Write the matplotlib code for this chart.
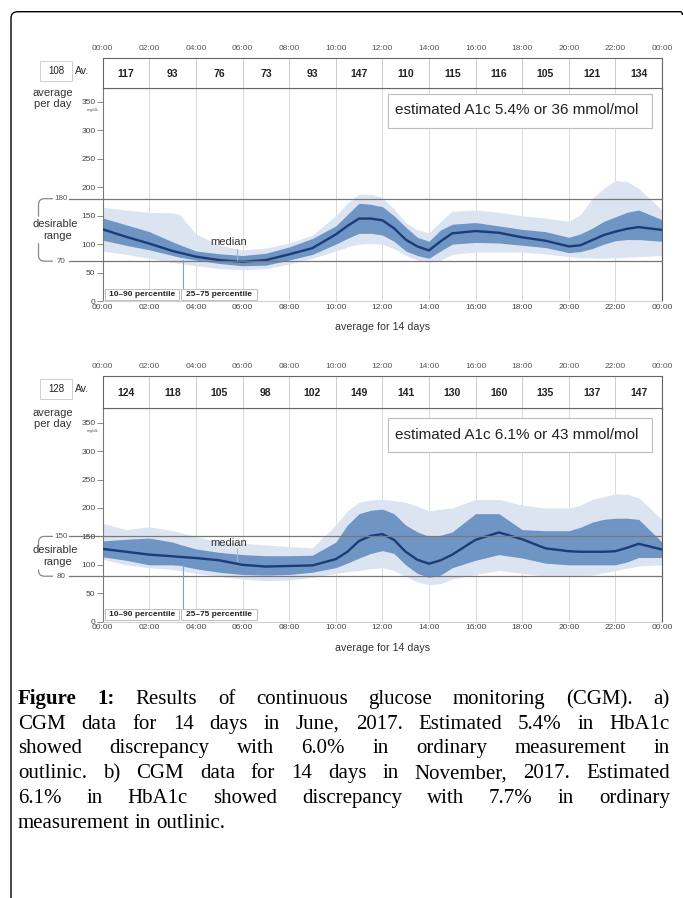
import numpy as np
import matplotlib
matplotlib.use("Agg")
import matplotlib.pyplot as plt
from matplotlib.path import Path
from matplotlib.patches import PathPatch, Rectangle

plt.rcParams['font.family'] = ['Liberation Sans', 'DejaVu Sans']

W, H = 683, 898
PPU = 0.5686          # pixels per mg/dL
X0, X1 = 102.7, 662   # plot area left/right in pixels

# ---- values ----
hours = [0, 1, 2, 3, 3.3, 4, 5, 6, 7, 8, 9, 10, 10.5, 11, 11.5, 12, 12.5, 13, 13.5,
         14, 14.5, 15, 16, 17, 18, 19, 20, 20.5, 21, 21.5, 22, 22.5, 23, 24]
times = ["00:00", "02:00", "04:00", "06:00", "08:00", "10:00", "12:00",
         "14:00", "16:00", "18:00", "20:00", "22:00", "00:00"]

# a) June 2017
med_a = [126, 113, 101, 88, 85, 78, 72, 69, 72, 82, 93, 117, 132, 145, 145, 142, 128, 108, 96,
         89, 105, 119, 123, 120, 112, 106, 96, 98, 107, 116, 122, 127, 130, 125]
p75_a = [146, 134, 122, 104, 99, 88, 83, 80, 84, 95, 110, 132, 152, 172, 170, 166, 150, 130, 112,
         105, 125, 135, 138, 132, 126, 122, 112, 118, 128, 140, 148, 156, 160, 143]
p25_a = [107, 98, 90, 80, 77, 72, 66, 62, 63, 72, 82, 100, 110, 119, 119, 116, 105, 88, 80,
         75, 88, 100, 103, 102, 98, 94, 85, 87, 92, 100, 106, 108, 108, 105]
p90_a = [165, 160, 156, 155, 152, 118, 98, 90, 93, 102, 116, 150, 172, 188, 188, 182, 162, 138, 125,
         120, 140, 158, 160, 156, 150, 146, 140, 152, 180, 198, 212, 210, 198, 160]
p10_a = [88, 82, 75, 68, 66, 62, 57, 55, 57, 65, 75, 88, 95, 100, 101, 100, 92, 80, 72,
         68, 72, 82, 86, 86, 86, 83, 78, 76, 76, 75, 76, 77, 78, 80]
avg_a = [117, 93, 76, 73, 93, 147, 110, 115, 116, 105, 121, 134]

# b) November 2017
med_b = [128, 123, 118, 115, 114, 112, 108, 100, 97, 98, 99, 110, 123, 142, 151, 154, 144, 123, 109,
         102, 108, 118, 144, 157, 145, 129, 124, 123, 123, 123, 124, 130, 137, 127]
p75_b = [142, 145, 147, 140, 136, 128, 122, 118, 116, 116, 117, 140, 170, 190, 196, 198, 190, 170, 158,
         150, 152, 158, 190, 190, 162, 160, 160, 166, 175, 180, 182, 182, 180, 140]
p25_b = [114, 108, 100, 100, 99, 93, 87, 83, 82, 83, 87, 95, 103, 112, 120, 125, 120, 100, 85,
         78, 82, 95, 108, 118, 112, 103, 100, 100, 100, 100, 100, 105, 113, 113]
p90_b = [173, 162, 167, 160, 157, 150, 140, 138, 135, 132, 130, 170, 195, 210, 214, 215, 213, 210, 203,
         195, 198, 200, 215, 215, 205, 200, 200, 205, 215, 220, 225, 224, 218, 180]
p10_b = [110, 100, 95, 92, 90, 85, 80, 75, 72, 73, 78, 85, 88, 90, 93, 95, 90, 80, 70,
         65, 67, 75, 83, 90, 85, 80, 80, 80, 82, 86, 90, 94, 98, 100]
avg_b = [124, 118, 105, 98, 102, 149, 141, 130, 160, 135, 137, 147]

LIGHT = "#dce4f2"
DARK = "#6f95c5"
NAVY = "#1b3c78"

caption = [
    [("Figure", True), ("1:", True), ("Results", False), ("of", False), ("continuous", False),
     ("glucose", False), ("monitoring", False), ("(CGM).", False), ("a)", False)],
    "CGM data for 14 days in June, 2017. Estimated 5.4% in HbA1c",
    "showed discrepancy with 6.0% in ordinary measurement in",
    "outlinic. b) CGM data for 14 days in November, 2017. Estimated",
    "6.1% in HbA1c showed discrepancy with 7.7% in ordinary",
    "measurement in outlinic.",
]

fig = plt.figure(figsize=(W / 100, H / 100), dpi=100)
ov = fig.add_axes([0, 0, 1, 1], zorder=5)
ov.set_xlim(0, W)
ov.set_ylim(H, 0)
ov.axis("off")


def rect(x0, y0, x1, y1):
    return [x0 / W, 1 - y1 / H, (x1 - x0) / W, (y1 - y0) / H]


def panel(htop, atop, zero, p10, p25, med, p75, p90, avgs, day_avg, a1c, lo, hi,
          med_y, ptr_top, med_ptr, a1c_top):
    # main plot
    ax = fig.add_axes(rect(X0, atop, X1, zero))
    ax.set_xlim(0, 24)
    ax.set_ylim(0, (zero - atop) / PPU)
    ax.grid(axis='x', color='#dadada', lw=0.7)
    ax.set_axisbelow(True)
    ax.fill_between(hours, p10, p90, color=LIGHT, lw=0, zorder=1)
    ax.fill_between(hours, p25, p75, color=DARK, lw=0, zorder=2)
    ax.plot(hours, med, color=NAVY, lw=1.7, zorder=3)
    ytr = ax.get_yaxis_transform()
    for v in (lo, hi):
        ax.plot([-0.06, 1], [v, v], transform=ytr, color='#777777', lw=0.9,
                clip_on=False, zorder=4)
        ax.text(-0.0746, v, str(v), transform=ytr, ha='center', va='center',
                fontsize=5.8, color='#555555')
    ax.set_yticks(range(0, 351, 50))
    ax.tick_params(axis='y', length=4.3, width=0.6, color='#777777', labelsize=6,
                   labelcolor='#444444', pad=0.8)
    ax.set_xticks(range(0, 25, 2))
    ax.set_xticklabels(times)
    ax.tick_params(axis='x', length=0, pad=2.0, labelsize=6, labelcolor='#444444')
    ax.spines['left'].set_color('#777777')
    ax.spines['right'].set_color('#555555')
    ax.spines['top'].set_color('#555555')
    ax.spines['bottom'].set_color('#d0d0d0')
    for s in ax.spines.values():
        s.set_linewidth(0.8)
    ax.text(5.4, med_y, 'median', ha='center', va='center', fontsize=8, color='#333333', zorder=5)
    ax.plot([3.45, 3.45], [22, ptr_top], color='#7f9fc8', lw=0.8, zorder=4)
    ax.plot([5.75, 5.75], med_ptr, color='#9db3d3', lw=0.7, zorder=4)

    # header row with 2-hour averages
    hx = fig.add_axes(rect(X0, htop, X1, atop))
    hx.set_xlim(0, 24)
    hx.set_ylim(0, 1)
    hx.set_xticks(range(0, 25, 2))
    hx.set_xticklabels(times)
    hx.xaxis.tick_top()
    hx.tick_params(axis='x', length=0, pad=4.2, labelsize=6, labelcolor='#555555')
    hx.set_yticks([])
    for h in range(2, 24, 2):
        hx.axvline(h, color='#cccccc', lw=0.7)
    for s in hx.spines.values():
        s.set_color('#666666')
        s.set_linewidth(0.8)
    for i, v in enumerate(avgs):
        hx.text(2 * i + 1, 0.47, str(v), ha='center', va='center', fontsize=7.5,
                fontweight='bold', color='#222222')

    # labels around the plot (pixel coordinates)
    ov.add_patch(Rectangle((40, htop + 3), 32, 20, fill=False, ec='#cfcfcf', lw=0.7))
    ov.text(56, htop + 13.5, str(day_avg), ha='center', va='center', fontsize=7, color='#222222')
    ov.text(82, htop + 14, 'Av.', ha='center', va='center', fontsize=7.5, color='#222222')
    ov.text(53, atop + 5.5, 'average', ha='center', va='center', fontsize=8, color='#333333')
    ov.text(53, atop + 16.5, 'per day', ha='center', va='center', fontsize=8, color='#333333')
    ov.text(93, zero - 350 * PPU + 8, 'mg/dL', ha='center', va='center', fontsize=3.2, color='#555555')

    # desirable range bracket
    yt, yb = zero - hi * PPU, zero - lo * PPU
    ym = (yt + yb) / 2
    xr, xl, r = 53, 38.5, 6
    top_piece = Path([(xr, yt), (xl + r, yt), (xl, yt), (xl, yt + r), (xl, min(ym - 10, yt + 18))],
                     [Path.MOVETO, Path.LINETO, Path.CURVE3, Path.CURVE3, Path.LINETO])
    bot_piece = Path([(xl, max(ym + 13, yb - 18)), (xl, yb - r), (xl, yb), (xl + r, yb), (xr, yb)],
                     [Path.MOVETO, Path.LINETO, Path.CURVE3, Path.CURVE3, Path.LINETO])
    for p in (top_piece, bot_piece):
        ov.add_patch(PathPatch(p, fill=False, ec='#888888', lw=0.9))
    ov.text(55.5, ym - 6, 'desirable', ha='center', va='center', fontsize=8, color='#333333')
    ov.text(57.5, ym + 6, 'range', ha='center', va='center', fontsize=8, color='#333333')

    # percentile legend boxes
    for x0, x1, lab in ((105, 179, '10\u201390 percentile'), (181, 257, '25\u201375 percentile')):
        ov.add_patch(Rectangle((x0, zero - 12.5), x1 - x0, 11, fc='white', ec='#b5b5b5', lw=0.6))
        ov.text((x0 + x1) / 2, zero - 7, lab, ha='center', va='center', fontsize=6,
                fontweight='bold', color='#222222')

    # estimated A1c box
    ov.add_patch(Rectangle((388, atop + a1c_top), 264, 34, fc='white', ec='#bdbdbd', lw=0.8))
    ov.text(395, atop + a1c_top + 17, a1c, ha='left', va='center', fontsize=11, color='#222222')

    ov.text(383, zero + 26, 'average for 14 days', ha='center', va='center', fontsize=7.7,
            color='#333333')


panel(57.5, 87.7, 301.0, p10_a, p25_a, med_a, p75_a, p90_a, avg_a, 108,
      'estimated A1c 5.4% or 36 mmol/mol', 70, 180, 104, 72, [72, 92], 5.8)
panel(375.5, 407.7, 621.7, p10_b, p25_b, med_b, p75_b, p90_b, avg_b, 128,
      'estimated A1c 6.1% or 43 mmol/mol', 80, 150, 138, 100, [107, 127], 10.3)

# outer frame with rounded top-left corner
frame = Path([(11, H), (11, 18), (11, 11.7), (18, 11.7), (680, 11.7), (682.5, 11.7), (682.5, 15)],
             [Path.MOVETO, Path.LINETO, Path.CURVE3, Path.CURVE3, Path.LINETO, Path.CURVE3, Path.CURVE3])
ov.add_patch(PathPatch(frame, fill=False, ec='black', lw=1.0, clip_on=False))

# justified caption
renderer = fig.canvas.get_renderer()
L, R = 18, 670
FS = 15
base = 704
step = 24.7
for k, line in enumerate(caption):
    words = line if isinstance(line, list) else [(w, False) for w in line.split()]
    items = []
    for w, bold in words:
        t = ov.text(0, base + step * k, w, fontsize=FS, family='Liberation Serif',
                    fontweight='bold' if bold else 'normal', ha='left', va='baseline', color='black')
        items.append((t, t.get_window_extent(renderer).width))
    total = sum(wd for _, wd in items)
    if k < len(caption) - 1:
        gap = (R - L - total) / (len(items) - 1)
    else:
        gap = FS * 100 / 72 * 0.25
    x = L
    for t, wd in items:
        t.set_x(x)
        x += wd + gap

fig.savefig("out.png", dpi=100)
